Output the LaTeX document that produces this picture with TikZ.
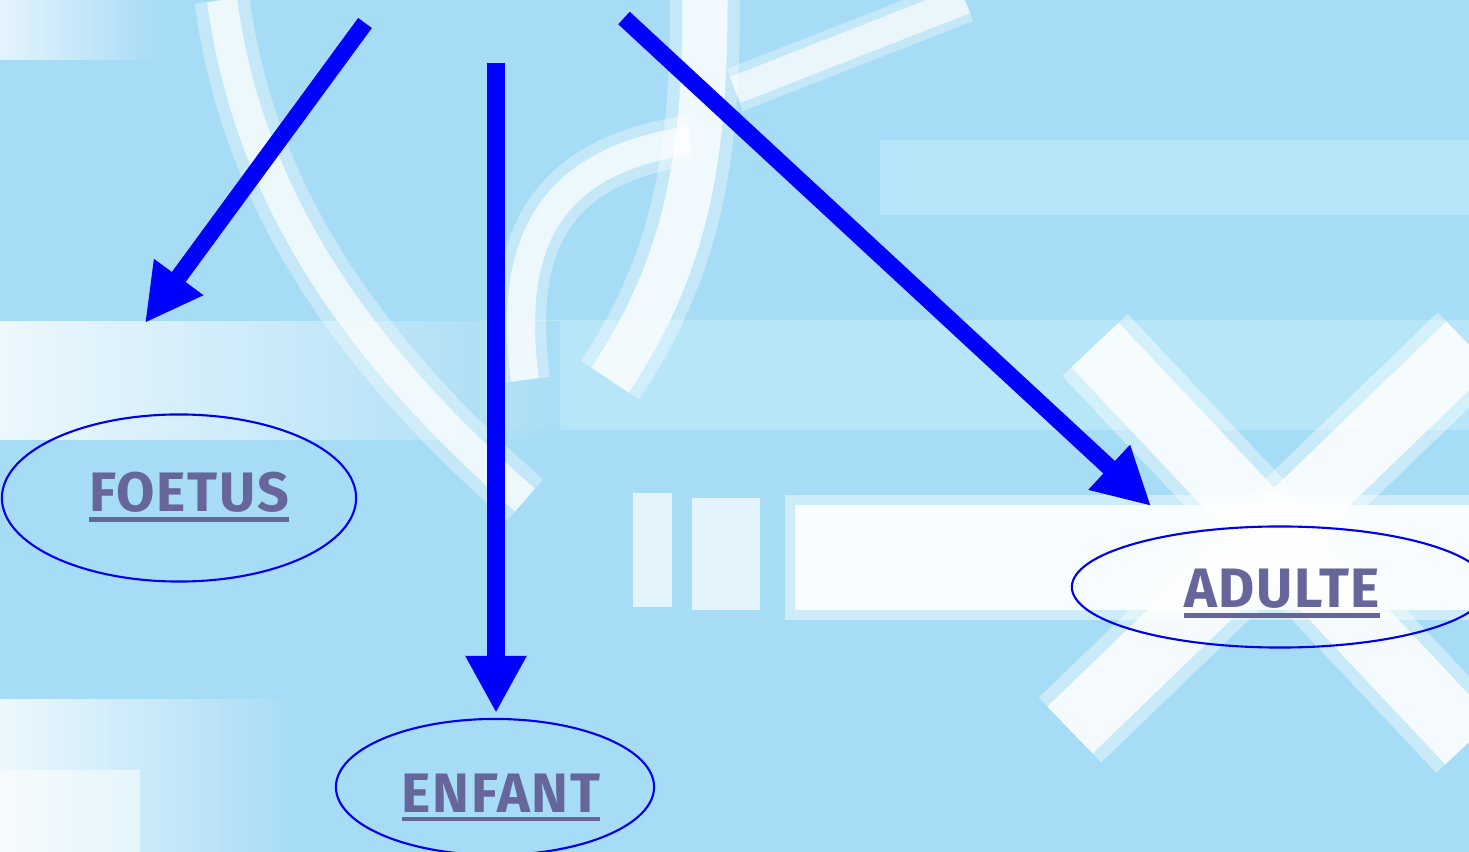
\documentclass[tikz,border=0pt]{standalone}
\usepackage{fontspec}
\setmainfont{Fira Sans}
\usetikzlibrary{arrows.meta,shapes.geometric}
\definecolor{bgblue}{HTML}{A6DCF6}
\definecolor{lightcyan}{HTML}{C4EEFB}
\definecolor{arrowblue}{HTML}{0000FF}
\definecolor{ringblue}{HTML}{0000EE}
\definecolor{txtcol}{HTML}{67669A}
\newcommand\myul[1]{\vtop{\hbox{#1}\kern0.045cm\hrule height 0.045cm}}
\begin{document}
\begin{tikzpicture}[x=0.01cm,y=-0.01cm,
  bigarrow/.style={draw=arrowblue, line width=0.17cm, -{Triangle[length=0.57cm,width=0.57cm]}},
  ring/.style={draw=ringblue, line width=0.6pt, ellipse, inner sep=0pt},
  lbl/.style={text=txtcol, font=\fontsize{15.8pt}{18pt}\selectfont\bfseries\addfontfeature{LetterSpace=3}, inner sep=0pt, anchor=base},
  softw/.style={draw=white, line cap=butt, opacity=#1},
  softw/.default=0.6
]
\useasboundingbox (0,0) rectangle (1469,852);
% background
\fill[bgblue] (0,0) rectangle (1469,852);
\fill[lightcyan, opacity=0.5] (880,140) rectangle (1469,215);
\fill[lightcyan, opacity=0.6] (480,320) rectangle (1469,430);
\shade[left color=white, right color=bgblue, opacity=0.8] (0,322) rectangle (560,440);
\shade[left color=white, right color=bgblue, opacity=0.8] (0,700) rectangle (300,852);
\fill[white, opacity=0.5] (0,770) rectangle (140,852);
\shade[left color=white, right color=bgblue, opacity=0.7] (0,0) rectangle (160,60);
% swooshes
\draw[softw=0.35, line width=0.55cm] (222,0) .. controls (245,170) and (330,330) .. (525,500);
\draw[softw=0.7, line width=0.3cm] (222,0) .. controls (245,170) and (330,330) .. (525,500);
\draw[softw=0.35, line width=0.5cm] (525,380) .. controls (505,230) and (560,160) .. (690,140);
\draw[softw=0.7, line width=0.28cm] (525,380) .. controls (505,230) and (560,160) .. (690,140);
\draw[softw=0.35, line width=0.7cm] (705,0) .. controls (705,150) and (690,260) .. (610,380);
\draw[softw=0.75, line width=0.45cm] (705,0) .. controls (705,150) and (690,260) .. (610,380);
\draw[softw=0.35, line width=0.45cm] (735,90) -- (965,0);
\draw[softw=0.65, line width=0.28cm] (735,90) -- (965,0);
% X shape
\draw[softw=0.4, line width=0.9cm] (1095,345) -- (1469,742);
\draw[softw=0.8, line width=0.65cm] (1095,345) -- (1469,742);
\draw[softw=0.4, line width=0.9cm] (1469,345) -- (1070,730);
\draw[softw=0.8, line width=0.65cm] (1469,345) -- (1070,730);
% bars
\fill[white, opacity=0.45] (785,495) rectangle (1469,620);
\fill[white, opacity=0.85] (795,505) rectangle (1469,610);
\fill[white, opacity=0.7] (633,493) rectangle (672,607);
\fill[white, opacity=0.7] (692,498) rectangle (760,610);

% ellipses
\node[ring, minimum width=3.54cm, minimum height=1.67cm] (foetus) at (179,498) {};
\node[ring, minimum width=3.18cm, minimum height=1.36cm] (enfant) at (495,787) {};
\node[ring, minimum width=4.16cm, minimum height=1.21cm] (adulte) at (1280,587) {};
% labels
\node[lbl] (foetusT) at (189,512) {\myul{FOETUS}};
\node[lbl] (enfantT) at (501,812) {\myul{ENFANT}};
\node[lbl] (adulteT) at (1282,608) {\myul{ADULTE}};
% arrows
\coordinate (a1s) at (365,23);
\coordinate (a1e) at (145,323);
\coordinate (a2s) at (496,63);
\coordinate (a2e) at (496,713);
\coordinate (a3s) at (624,18);
\coordinate (a3e) at (1151,506);
\draw[bigarrow] (a1s) -- (a1e);
\draw[bigarrow] (a2s) -- (a2e);
\draw[bigarrow] (a3s) -- (a3e);
\end{tikzpicture}
\end{document}
